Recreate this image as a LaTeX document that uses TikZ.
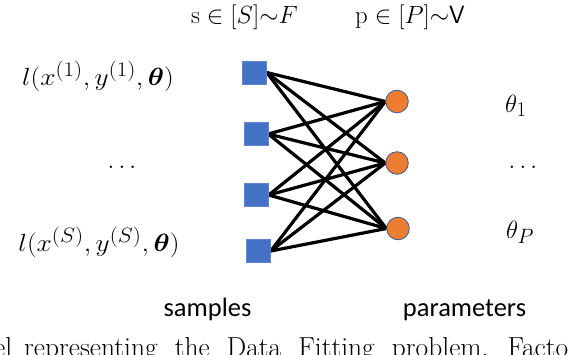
\documentclass[tikz,border=0pt]{standalone}
\usepackage{amsmath,bm}
\usepackage{graphicx}
\usepackage{fontspec}
\newfontfamily\calibri{Carlito}
\definecolor{sqblue}{HTML}{4472C4}
\definecolor{porange}{HTML}{ED7D31}
\definecolor{pborder}{HTML}{3A5A9A}
\pgfdeclarelayer{bg}
\pgfsetlayers{bg,main}
\begin{document}
\begin{tikzpicture}[x=1pt,y=-1pt,
  sq/.style={rectangle, fill=sqblue, draw=sqblue!85!white, line width=0.4pt,
    minimum width=24pt, minimum height=23pt, inner sep=0pt},
  pc/.style={circle, fill=porange, draw=pborder, line width=0.8pt,
    minimum size=22.6pt, inner sep=0pt},
  edge/.style={line width=3.2pt, black},
  mlabel/.style={inner sep=0pt, anchor=base, font=\fontsize{24.88}{30}\selectfont},
  tlabel/.style={inner sep=0pt, anchor=base, font=\fontsize{24.88}{30}\selectfont},
  dlabel/.style={inner sep=0pt, anchor=base, font=\fontsize{24.88}{30}\selectfont},
  slabel/.style={inner sep=0pt, anchor=base, font=\calibri\fontsize{26.5}{30}\selectfont},
  caption/.style={inner sep=0pt, anchor=base west, font=\fontsize{27.5}{32}\selectfont}]
\useasboundingbox (0,0) rectangle (568,354);
\clip (0,0) rectangle (568,354);

% factor nodes (samples)
\node[sq] (s1) at (254.5,72.5) {};
\node[sq] (s2) at (256,134) {};
\node[sq] (s3) at (256.5,195) {};
\node[sq] (s4) at (258.5,251) {};
% variable nodes (parameters)
\node[pc] (c1) at (397,101.5) {};
\node[pc] (c2) at (397,163) {};
\node[pc] (c3) at (398,228.5) {};

\begin{pgfonlayer}{bg}
\foreach \s in {s1,s2,s3,s4}
  \foreach \c in {c1,c2,c3}
    \draw[edge] (\s.east) -- (\c.west);
\end{pgfonlayer}

% top labels
\node[tlabel] (tf) at (244.5,23) {$\mathrm{s}\in[S]{\sim}F$};
\node[tlabel] (tv) at (410,23) {$\mathrm{p}\in[P]{\sim}\mathsf{V}$};

% left labels
\node[mlabel] (l1) at (98,85.5) {\scalebox{1.1}[1]{$l(x^{(1)},y^{(1)},\bm{\theta})$}};
\node[dlabel] (ld) at (122,168) {$\ldots$};
\node[mlabel] (ls) at (99,251.5) {\scalebox{1.1}[1]{$l(x^{(S)},y^{(S)},\bm{\theta})$}};

% right labels
\node[mlabel, anchor=base west] (r1) at (505,112) {$\theta_1$};
\node[dlabel] (rd) at (523,168) {$\ldots$};
\node[mlabel, anchor=base west] (rp) at (506,238) {$\theta_P$};

% bottom labels
\node[slabel] (samp) at (207.5,316) {samples};
\node[slabel] (par) at (464.5,316) {parameters};

% cut-off caption (justified line)
\node[caption] (cap) at (24,356) {\llap{model\hspace{12pt}}\hbox to 544pt{\spaceskip=8pt plus 30pt minus 3pt\xspaceskip=10pt plus 30pt minus 3pt\relax representing the Data Fitting problem. Facto}r graph};
\end{tikzpicture}
\end{document}
